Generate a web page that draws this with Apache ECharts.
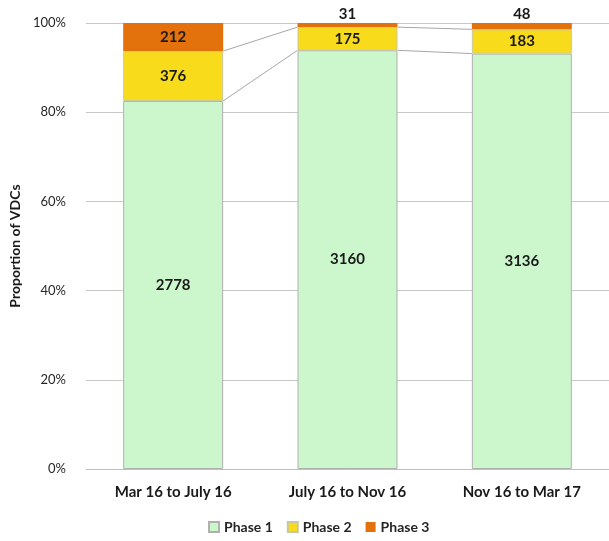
<!DOCTYPE html>
<html><head><meta charset="utf-8">
<script src="https://cdn.jsdelivr.net/npm/echarts@6/dist/echarts.min.js"></script>
<style>html,body{margin:0;padding:0;background:#fff}#c{width:609px;height:541px}</style>
</head><body><div id="c"></div>
<script>
var categories = ['Mar 16 to July 16', 'July 16 to Nov 16', 'Nov 16 to Mar 17'];
var phase1 = [2778, 3160, 3136];
var phase2 = [376, 175, 183];
var phase3 = [212, 31, 48];
var yTicks = ['0%', '20%', '40%', '60%', '80%', '100%'];

var totals = categories.map(function (_, i) { return phase1[i] + phase2[i] + phase3[i]; });
function pct(arr) { return arr.map(function (v, i) { return v / totals[i] * 100; }); }
var p1 = pct(phase1), p2 = pct(phase2), p3 = pct(phase3);
var cum1 = p1, cum2 = p1.map(function (v, i) { return v + p2[i]; });
var connectors = [];
for (var i = 0; i < categories.length - 1; i++) {
  connectors.push([i, cum1[i], cum1[i + 1], cum2[i], cum2[i + 1]]);
}
var FONT = 'Lato';
var BAR_W = 100;
var chart = echarts.init(document.getElementById('c'));
var lbl = { show: true, position: 'inside', color: '#1a1a1a', fontWeight: 'bold', fontSize: 15, fontFamily: FONT };
chart.setOption({
  animation: false,
  textStyle: { fontFamily: FONT },
  grid: { left: 86, top: 23, bottom: 72, width: 529 },
  legend: {
    bottom: 2, left: 203, itemWidth: 10, itemHeight: 10, itemGap: 14,
    icon: 'rect',
    textStyle: { fontSize: 14, fontWeight: 'bold', color: '#262626', fontFamily: FONT },
    data: ['Phase 1', 'Phase 2', 'Phase 3']
  },
  xAxis: {
    type: 'category', data: categories,
    axisLine: { lineStyle: { color: '#bfbfbf' } },
    axisTick: { show: false },
    axisLabel: { color: '#1a1a1a', fontSize: 15, fontWeight: 'bold', margin: 16, fontFamily: FONT }
  },
  yAxis: {
    type: 'value', min: 0, max: 100, interval: 20,
    name: 'Proportion of VDCs', nameLocation: 'middle', nameGap: 57,
    nameTextStyle: { fontSize: 14, fontWeight: 'bold', color: '#1a1a1a', fontFamily: FONT },
    axisLabel: { color: '#262626', fontSize: 13, margin: 20, fontFamily: FONT,
      formatter: function (v) { return yTicks[Math.round(v / 20)]; } },
    splitLine: { lineStyle: { color: '#c8c8c8' } },
    axisLine: { show: false }, axisTick: { show: false }
  },
  series: [
    { name: 'Phase 1', type: 'bar', stack: 's', barWidth: BAR_W, data: p1,
      itemStyle: { color: '#ccf6cc', borderColor: '#b0b0b0', borderWidth: 1 },
      label: Object.assign({}, lbl, { formatter: function (p) { return phase1[p.dataIndex]; } }) },
    { name: 'Phase 2', type: 'bar', stack: 's', barWidth: BAR_W, data: p2,
      itemStyle: { color: '#f8dc1c', borderColor: '#c8c8a0', borderWidth: 1 },
      label: Object.assign({}, lbl, { formatter: function (p) { return phase2[p.dataIndex]; } }) },
    { name: 'Phase 3', type: 'bar', stack: 's', barWidth: BAR_W,
      data: p3.map(function (v, i) {
        return { value: v, label: v < 3 ? { position: 'top', distance: 1 } : {} };
      }),
      itemStyle: { color: '#e4720c' },
      label: Object.assign({}, lbl, { formatter: function (p) { return phase3[p.dataIndex]; } }) },
    { type: 'custom', silent: true, z: 1, data: connectors,
      encode: { x: 0, y: 1 },
      renderItem: function (params, api) {
        var i = api.value(0);
        var half = BAR_W / 2;
        var a1 = api.coord([i, api.value(1)]), b1 = api.coord([i + 1, api.value(2)]);
        var a2 = api.coord([i, api.value(3)]), b2 = api.coord([i + 1, api.value(4)]);
        var st = { stroke: '#a6a6a6', lineWidth: 1, fill: null };
        return { type: 'group', children: [
          { type: 'line', shape: { x1: a1[0] + half, y1: a1[1], x2: b1[0] - half, y2: b1[1] }, style: st },
          { type: 'line', shape: { x1: a2[0] + half, y1: a2[1], x2: b2[0] - half, y2: b2[1] }, style: st }
        ] };
      }
    }
  ]
});
</script></body></html>
